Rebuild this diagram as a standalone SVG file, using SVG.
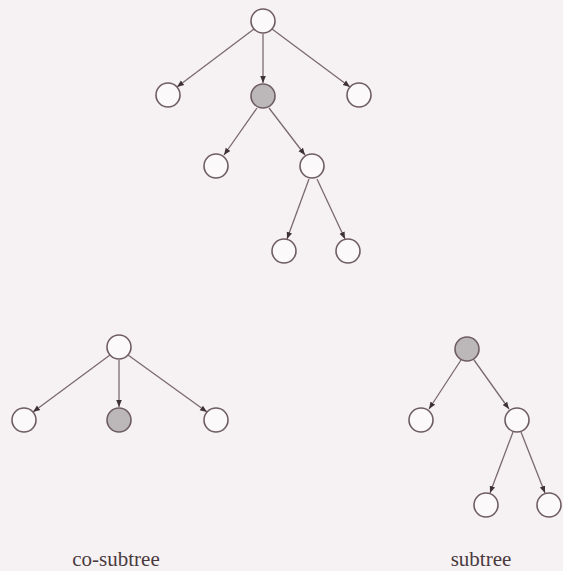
<svg xmlns="http://www.w3.org/2000/svg" width="563" height="571" viewBox="0 0 563 571">
<style>
.n{fill:#fbf9fa;stroke:#6e5c63;stroke-width:1.6}
.g{fill:#bcb7b9;stroke:#6e5c63;stroke-width:1.6}
.e{stroke:#7a6a70;stroke-width:1.3;fill:none;marker-end:url(#a)}
.t{font-family:"Liberation Serif",serif;font-size:21px;fill:#4a3a40;text-anchor:middle}
</style>
<defs>
<marker id="a" viewBox="0 0 10 10" refX="10" refY="5" markerWidth="7" markerHeight="7" markerUnits="userSpaceOnUse" orient="auto">
<path d="M0,1 L10,5 L0,9 z" fill="#3e3236"/>
</marker>
</defs>
<rect width="563" height="571" fill="#f6f2f3"/>
<g id="connectors">
<line class="e" x1="254" y1="29" x2="177" y2="87"/>
<line class="e" x1="263" y1="34" x2="263" y2="83"/>
<line class="e" x1="272" y1="29" x2="350" y2="87"/>
<line class="e" x1="257" y1="108" x2="224" y2="155"/>
<line class="e" x1="269" y1="108" x2="305" y2="155"/>
<line class="e" x1="309" y1="179" x2="287" y2="239"/>
<line class="e" x1="317" y1="179" x2="345" y2="239"/>
<line class="e" x1="110" y1="355" x2="33" y2="412"/>
<line class="e" x1="119" y1="360" x2="119" y2="407"/>
<line class="e" x1="128" y1="355" x2="207" y2="412"/>
<line class="e" x1="461" y1="360" x2="429" y2="409"/>
<line class="e" x1="474" y1="360" x2="509" y2="409"/>
<line class="e" x1="513" y1="432" x2="490" y2="493"/>
<line class="e" x1="521" y1="432" x2="545" y2="493"/>
</g>
<g id="t-root"><circle class="n" cx="263" cy="21" r="12"/></g>
<g id="t-left"><circle class="n" cx="168" cy="95" r="12"/></g>
<g id="t-mid"><circle class="g" cx="263" cy="96" r="12"/></g>
<g id="t-right"><circle class="n" cx="359" cy="95" r="12"/></g>
<g id="t-mid-left"><circle class="n" cx="216" cy="166" r="12"/></g>
<g id="t-mid-right"><circle class="n" cx="312" cy="166" r="12"/></g>
<g id="t-leaf1"><circle class="n" cx="284" cy="251" r="12"/></g>
<g id="t-leaf2"><circle class="n" cx="348" cy="251" r="12"/></g>
<g id="c-root"><circle class="n" cx="119" cy="347" r="12"/></g>
<g id="c-left"><circle class="n" cx="24" cy="420" r="12"/></g>
<g id="c-mid"><circle class="g" cx="119" cy="420" r="12"/></g>
<g id="c-right"><circle class="n" cx="216" cy="420" r="12"/></g>
<g id="s-root"><circle class="g" cx="467" cy="349" r="12"/></g>
<g id="s-left"><circle class="n" cx="421" cy="420" r="12"/></g>
<g id="s-right"><circle class="n" cx="517" cy="420" r="12"/></g>
<g id="s-leaf1"><circle class="n" cx="486" cy="505" r="12"/></g>
<g id="s-leaf2"><circle class="n" cx="549" cy="505" r="12"/></g>
<text class="t" x="116" y="566">co-subtree</text>
<text class="t" x="481" y="566">subtree</text>
</svg>
